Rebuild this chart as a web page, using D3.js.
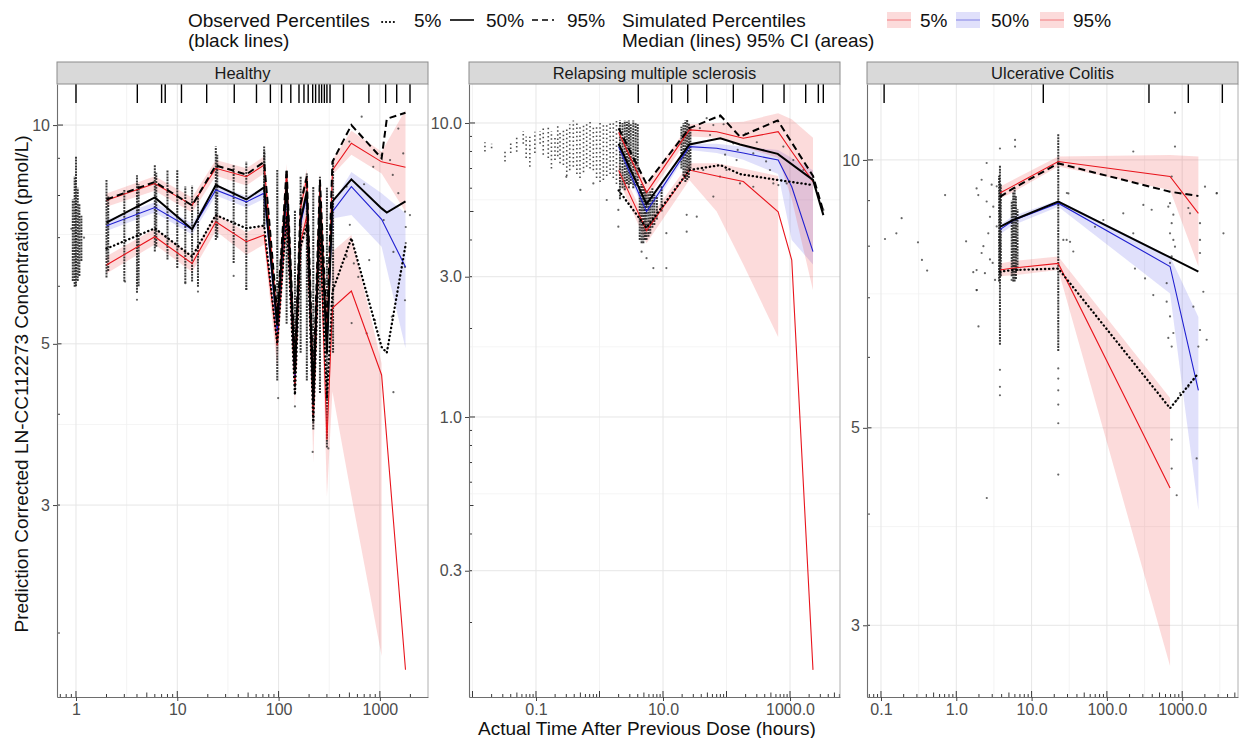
<!DOCTYPE html>
<html><head><meta charset="utf-8">
<script src="https://cdn.jsdelivr.net/npm/d3@7"></script>
<style>body{margin:0;background:#fff}svg{display:block}text{font-family:"Liberation Sans",Arial,Helvetica,sans-serif}</style>
</head><body><svg id="c" width="1239" height="738"></svg>
<script>
// ---------------- DATA ----------------
// Healthy
const healthyXTicks=[1,10,100,1000], healthyXLabels=["1","10","100","1000"];
const healthyYTicks=[3,5,10], healthyYLabels=["3","5","10"];
const healthyRug=[1,4.03,7.0,7.6,11,19.5,36.5,60.5,83,107,132,159,178,196,217,232,251,266,283,300,322,437,779,1140,1466,1983];
const healthySimTime=[2,6,14,24,48,72,97,120,145,165,190,220,256,300,340,523,1040,1790];
const healthySim95=[7.88,8.31,7.76,8.72,8.49,8.81,5.4,8.6,4.65,7.7,8.45,4.3,8.35,5.1,8.67,9.44,8.90,8.75];
const healthySim95Lo=[7.72,8.12,7.58,8.52,8.26,8.58,5.15,8.3,4.45,7.4,8.2,4.05,8.1,4.8,8.54,9.10,8.58,7.60];
const healthySim95Hi=[8.05,8.50,7.95,8.95,8.72,9.05,5.65,8.85,4.85,7.95,8.7,4.55,8.6,5.4,8.95,9.82,9.19,10.5];
const healthySim50=[7.27,7.70,7.19,8.14,7.84,8.06,5.2,8.1,4.5,7.3,8.0,4.15,7.9,4.9,7.60,8.23,7.42,6.38];
const healthySim50Lo=[7.15,7.58,7.07,8.0,7.70,7.92,5.05,7.9,4.35,7.1,7.8,4.0,7.7,4.7,7.44,7.52,6.80,4.93];
const healthySim50Hi=[7.40,7.83,7.32,8.28,7.98,8.20,5.35,8.3,4.65,7.5,8.2,4.3,8.1,5.1,7.80,8.62,8.06,7.56];
const healthySim05=[6.42,7.02,6.45,7.36,6.91,7.06,4.98,7.6,4.38,6.9,7.5,3.97,7.3,3.69,5.60,5.91,4.53,1.78];
const healthySim05Lo=[6.25,6.85,6.28,7.15,6.63,6.85,4.63,7.3,4.1,6.6,7.2,3.43,7.0,3.08,4.30,3.09,1.86,null];
const healthySim05Hi=[6.60,7.20,6.62,7.55,7.12,7.30,5.2,7.9,4.6,7.2,7.8,4.3,7.6,4.1,6.70,7.06,4.7,null];
const healthyObsTime=[2,6,14,24,48,72,97,120,145,165,190,220,256,300,340,523,1040,1170,1790];
const healthyObs95=[7.9,8.35,7.75,8.8,8.55,8.9,5.5,8.7,4.7,7.8,8.5,4.4,8.4,5.2,8.9,10.0,9.0,10.2,10.4];
const healthyObs50=[7.34,7.95,7.19,8.27,7.90,8.21,5.3,8.3,4.55,7.4,8.1,4.15,7.9,4.85,7.85,8.42,7.68,7.58,7.85];
const healthyObs05=[6.76,7.21,6.59,7.52,7.21,7.27,5.0,7.5,4.25,6.8,7.3,3.9,7.2,4.2,5.9,6.99,4.95,4.86,6.83];
const healthyColumns=[[0.93,6.1,7.9],[0.97,5.99,8.5],[1.0,6.0,9.05],[1.04,6.1,8.2],[1.08,6.2,7.8],[1.13,6.5,7.5],
 [2,6.17,8.40],[2.08,6.3,8.0],[3,6.09,8.14],[4,5.88,8.53],[4.15,6.0,8.3],[6,6.70,8.81],[6.2,6.8,8.6],[8,6.53,8.67],[10,6.36,8.67],
 [12,6.06,8.23],[14,6.09,8.25],[16,5.99,8.01],[24,6.95,9.34],[24.8,7.0,9.1],[36,6.46,8.81],[48,5.93,8.90],[72,7.25,9.34],[72.5,7.3,9.2],
 [97,4.45,8.67],[120,5.33,8.67],[145,4.28,7.64],[165,4.86,8.49],[190,4.45,8.58],[220,3.81,8.23],[256,4.28,8.49],[300,3.6,8.2],[345,4.86,8.95]];
const healthyPoints=[[661,10.27],[499,9.49],[505,7.29],[469,6.59],[553,6.45],[612,6.18],[698,8.29],[785,6.52],[895,5.39],[1040,9.09],
 [1260,8.95],[1340,8.54],[1520,9.89],[1520,8.06],[1700,9.14],[1770,7.60],[1800,7.24],[1800,6.88],[1770,6.38],[1770,5.74],[1980,7.52],
 [1360,6.69],[1090,7.40],[1310,5.45],[1360,4.29],[469,8.23],[860,8.76],[99,4.21],[145,4.10],[217,3.55],[310,3.59],[3.05,6.09],[12,6.06],
 [48,5.95],[526,5.34],[740,5.17],[4,5.75],[16,5.9],[36,6.2],[1.2,7.0],[0.9,7.2]];

// Relapsing multiple sclerosis
const rmsXTicks=[0.1,10,1000], rmsXLabels=["0.1","10.0","1000.0"];
const rmsYTicks=[0.3,1,3,10], rmsYLabels=["0.3","1.0","3.0","10.0"];
const rmsRug=[4.08,13.7,24.5,48.7,128,372,805,1766,2792,3343];
const rmsSimTime=[2,5.5,26,70,184,650,1065,2300];
const rmsSim95=[9.3,5.8,9.47,9.34,8.87,9.34,8.0,6.32];
const rmsSim95Lo=[8.9,5.5,9.0,8.9,8.3,7.6,5.5,2.7];
const rmsSim95Hi=[9.7,6.2,9.9,10.0,10.1,10.8,10.3,8.9];
const rmsSim50=[8.3,5.0,8.31,8.2,7.9,7.48,6.07,3.65];
const rmsSim50Lo=[8.0,4.8,8.1,7.9,7.5,6.7,4.0,3.3];
const rmsSim50Hi=[8.6,5.25,8.5,8.5,8.3,8.1,7.6,6.9];
const rmsSim05=[6.9,4.3,6.92,6.6,6.32,4.99,3.42,0.138];
const rmsSim05Lo=[6.4,3.9,6.4,5.0,3.3,1.87,null,null];
const rmsSim05Hi=[7.3,4.6,7.3,7.3,7.0,6.6,null,null];
const rmsObsTime=[2,5.5,26,80,163,640,2300,3350];
const rmsObs95=[9.6,6.2,9.6,10.6,8.98,10.2,6.6,5.0];
const rmsObs50=[8.5,5.3,8.45,8.87,8.45,7.85,6.4,4.86];
const rmsObs05=[5.9,4.4,6.92,7.19,6.7,6.40,6.15,null];
const rmsSparseColumns=[[0.0157,8.0,8.6],[0.02,8.2,8.5],[0.0325,7.4,8.1],[0.04,7.9,8.6],[0.0497,7.99,8.98],[0.063,8.5,9.4],[0.07,7.6,9.0],
 [0.08,7.1,8.98],[0.096,7.9,9.34],[0.116,8.5,9.4],[0.13,7.8,9.6],[0.156,7.6,9.7],[0.175,7.0,9.4],[0.199,7.48,9.0],[0.22,7.7,9.8],
 [0.239,7.3,9.34],[0.27,7.2,9.6],[0.305,6.6,9.5],[0.34,6.9,9.9],[0.387,7.1,10.2],[0.44,6.7,10.0],[0.493,6.5,9.7],[0.56,6.8,9.9],
 [0.628,7.1,10.0],[0.71,7.0,10.1],[0.799,6.9,9.7],[0.9,6.5,9.8],[1.02,6.3,10.2],[1.15,6.4,10.0],[1.3,6.6,10.0],[1.47,6.7,10.1],
 [1.65,6.5,10.2],[1.85,6.2,10.2]];
const rmsDenseColumns=[[2.1,5.5,10.2],[2.3,6.0,10.0],[2.5,5.9,10.2],[2.7,6.2,10.1],[2.9,6.0,10.2],[3.1,6.2,9.9],[3.4,6.0,10.2],[3.7,6.1,10.0],[4.0,6.2,9.9],
 [4.3,4.0,6.1],[4.6,3.9,6.2],[4.9,3.9,6.1],[5.2,4.0,6.0],[5.5,4.0,5.9],[5.9,4.1,5.8],[6.3,4.2,5.9],[6.8,4.4,6.0],[7.3,4.5,5.7],[8.0,4.7,5.6],[9.5,5.0,6.1],
 [19.5,7.0,9.7],[21,6.6,10.0],[22.5,6.3,10.2],[24,6.4,10.24],[25.5,6.5,10.0],[27,7.0,9.6]];
const rmsPoints=[[48.7,10.38],[78.9,10.51],[62,9.84],[55,9.10],[43,6.92],[62,5.62],[128,8.53],[163,6.23],[264,7.88],[380,8.09],
 [484,6.92],[785,8.31],[885,6.23],[1127,7.48],[1622,6.92],[2476,6.07],[2966,5.33],[3350,5.06],[34,4.80],[78.9,6.57],[100,6.92],
 [144,7.48],[264,6.07],[546,6.23],[655,6.15],[11.3,4.22],[7.05,3.21],[11.3,3.21],[4.6,3.65],[5.5,3.47],[23.6,4.87],[23.6,4.27],
 [0.5,5.92],[0.8,6.23],[1.3,5.47],[0.3,6.56],[1.98,4.44],[1.98,5.06],[38,9.6],[90,9.9],[200,9.2],[300,8.6],[420,7.4],[95,7.8],[150,8.1]];

// Ulcerative Colitis
const ucXTicks=[0.1,1,10,100,1000], ucXLabels=["0.1","1.0","10.0","100.0","1000.0"];
const ucYTicks=[3,5,10], ucYLabels=["3","5","10"];
const ucRug=[0.11,14.3,362,1205,3412];
const ucSimTime=[3.8,5.7,22.6,690,1640];
const ucSim95=[9.18,9.35,9.96,9.58,8.71];
const ucSim95Lo=[9.05,9.2,9.83,9.25,7.59];
const ucSim95Hi=[9.33,9.5,10.09,10.13,10.09];
const ucSim50=[8.35,8.55,8.94,7.59,5.51];
const ucSim50Lo=[8.25,8.45,8.86,7.08,4.04];
const ucSim50Hi=[8.45,8.65,9.01,7.79,6.66];
const ucSim05=[7.52,7.56,7.65,4.28,null];
const ucSim05Lo=[7.40,7.42,7.52,2.70,null];
const ucSim05Hi=[7.65,7.7,7.79,5.4,null];
const ucObsTime=[3.8,5.7,22.6,690,1640];
const ucObs95=[9.09,9.29,9.91,9.21,9.11];
const ucObs50=[8.41,8.56,8.98,7.77,7.49];
const ucObs05=[7.49,7.52,7.55,5.26,5.76];
const ucColumns=[[3.8,6.2,9.85],[3.7,7.3,9.6],[3.9,7.4,9.4],[5.45,7.4,9.0],[5.7,7.3,9.2],[5.95,7.3,9.3],[6.2,7.35,9.1],[6.5,7.5,8.8],[22.6,6.1,10.7]];
const ucPoints=[[725,9.58],[689,8.94],[654,8.86],[763,8.68],[725,8.49],[689,8.27],[763,8.13],[802,7.99],[725,7.79],[689,7.66],
 [622,7.27],[413,7.05],[622,6.93],[689,6.67],[763,6.39],[654,6.31],[725,6.17],[935,5.47],[845,5.37],[725,4.85],[725,4.50],[845,4.20],
 [1206,8.83],[1270,8.71],[1723,8.49],[1723,8.13],[1723,7.86],[1908,7.11],[1406,6.84],[1723,6.44],[2113,6.28],[1638,6.17],[1406,5.66],
 [1206,5.56],[1556,4.62],[2008,9.33],[2870,9.17],[30.8,9.17],[29.2,8.13],[35.8,7.89],[69.5,8.41],[89.7,8.56],[165,8.71],[224,8.27],
 [305,8.90],[321,7.36],[236,7.55],[393,8.79],[224,10.22],[802,11.3],[802,10.35],[2880,9.18],[3530,8.27],[26.4,8.13],[32.4,8.09],[29.4,9.18],
 [0.113,8.15],[0.16,8.27],[0.188,8.60],[0.31,8.08],[0.35,7.72],[0.41,7.51],[0.71,9.13],[1.35,8.10],[1.87,7.14],[2.54,4.17],[1.97,6.50],
 [1.86,9.29],[1.96,9.13],[2.17,9.50],[2.53,8.98],[2.80,8.63],[3.10,8.86],[3.44,9.34],[2.66,8.27],[2.29,8.00],[2.80,7.73],[1.86,7.52],
 [2.40,7.46],[3.27,7.33],[1.86,7.14],[2.53,9.92],[2.95,9.38],[3.44,8.42],[3.04,7.66],[1.68,7.48],[2.17,7.86],[6.03,10.53],[6.03,10.35],
 [3.80,10.3],[5.43,7.33],[3.8,5.81],[3.8,5.56],[3.8,5.44],[22.6,5.83],[22.6,5.68],[22.6,5.51],[22.6,5.31],[22.6,5.06],[22.6,4.43]];

// ---------------- DRAW ----------------
const svg=d3.select("#c");
const TOP=84,BOT=697,STRIP_TOP=62;
const mk=(t,m,lo,hi)=>t.map((d,i)=>({t:d,m:m[i],lo:lo?lo[i]:null,hi:hi?hi[i]:null}));

const panels=[
 {title:"Healthy",x0:57,x1:428,xDom:[0.6494,2985],yDom:[1.633,11.39],
  xT:healthyXTicks,xL:healthyXLabels,xMinor:[3.162,31.62,316.2],yT:healthyYTicks,yL:healthyYLabels,yMinor:[3.873,7.071],
  rug:healthyRug,cols:healthyColumns,sparse:[],pts:healthyPoints,
  sim:[mk(healthySimTime,healthySim05,healthySim05Lo,healthySim05Hi),mk(healthySimTime,healthySim50,healthySim50Lo,healthySim50Hi),mk(healthySimTime,healthySim95,healthySim95Lo,healthySim95Hi)],
  obs:[mk(healthyObsTime,healthyObs05),mk(healthyObsTime,healthyObs50),mk(healthyObsTime,healthyObs95)]},
 {title:"Relapsing multiple sclerosis",x0:469,x1:840,xDom:[0.00881,6124],yDom:[0.1116,13.57],
  xT:rmsXTicks,xL:rmsXLabels,xMinor:[0.01,1,100],yT:rmsYTicks,yL:rmsYLabels,yMinor:[0.5477,1.732,5.477],
  rug:rmsRug,cols:rmsDenseColumns,sparse:rmsSparseColumns,pts:rmsPoints,
  sim:[mk(rmsSimTime,rmsSim05,rmsSim05Lo,rmsSim05Hi),mk(rmsSimTime,rmsSim50,rmsSim50Lo,rmsSim50Hi),mk(rmsSimTime,rmsSim95,rmsSim95Lo,rmsSim95Hi)],
  obs:[mk(rmsObsTime,rmsObs05),mk(rmsObsTime,rmsObs50),mk(rmsObsTime,rmsObs95)]},
 {title:"Ulcerative Colitis",x0:867,x1:1238,xDom:[0.0652,5508],yDom:[2.492,12.17],
  xT:ucXTicks,xL:ucXLabels,xMinor:[0.3162,3.162,31.62,316.2,3162],yT:ucYTicks,yL:ucYLabels,yMinor:[3.873,7.071],
  rug:ucRug,cols:ucColumns,sparse:[],pts:ucPoints,
  sim:[mk(ucSimTime,ucSim05,ucSim05Lo,ucSim05Hi),mk(ucSimTime,ucSim50,ucSim50Lo,ucSim50Hi),mk(ucSimTime,ucSim95,ucSim95Lo,ucSim95Hi)],
  obs:[mk(ucObsTime,ucObs05),mk(ucObsTime,ucObs50),mk(ucObsTime,ucObs95)]}
];
const simColor=["#e8141c","#1f1fd0","#e8141c"], simFill=["rgba(235,40,40,0.17)","rgba(60,60,230,0.16)","rgba(235,40,40,0.17)"];
const obsDash=["0.3,3.8",null,"7,4"];

panels.forEach((p,i)=>{
  const x=d3.scaleLog().domain(p.xDom).range([p.x0,p.x1]);
  const y=d3.scaleLog().domain(p.yDom).range([BOT,TOP]);
  const g=svg.append("g");
  svg.append("clipPath").attr("id","cp"+i).append("rect").attr("x",p.x0).attr("y",TOP).attr("width",p.x1-p.x0).attr("height",BOT-TOP);
  // grid
  p.yMinor.forEach(v=>g.append("line").attr("x1",p.x0).attr("x2",p.x1).attr("y1",y(v)).attr("y2",y(v)).attr("stroke","#f2f2f2").attr("stroke-width",0.8));
  p.xMinor.forEach(v=>{if(v>p.xDom[0]&&v<p.xDom[1])g.append("line").attr("x1",x(v)).attr("x2",x(v)).attr("y1",TOP).attr("y2",BOT).attr("stroke","#f0f0f0").attr("stroke-width",0.8);});
  p.yT.forEach(v=>g.append("line").attr("x1",p.x0).attr("x2",p.x1).attr("y1",y(v)).attr("y2",y(v)).attr("stroke","#e6e6e6").attr("stroke-width",1));
  p.xT.forEach(v=>g.append("line").attr("x1",x(v)).attr("x2",x(v)).attr("y1",TOP).attr("y2",BOT).attr("stroke","#e6e6e6").attr("stroke-width",1));
  const pl=g.append("g").attr("clip-path","url(#cp"+i+")");
  // CI areas
  p.sim.forEach((s,k)=>{
    pl.append("path").datum(s).attr("fill",simFill[k]).attr("stroke","none")
      .attr("d",d3.area().defined(d=>d.lo!=null&&d.hi!=null).x(d=>x(d.t)).y0(d=>y(d.lo)).y1(d=>y(d.hi)));
  });
  // observations
  p.sparse.forEach(c=>pl.append("line").attr("x1",x(c[0])).attr("x2",x(c[0])).attr("y1",y(c[1])).attr("y2",y(c[2]))
     .attr("stroke","#222").attr("stroke-width",1.6).attr("stroke-dasharray","1.5,2.6").attr("opacity",0.8));
  p.cols.forEach(c=>pl.append("line").attr("x1",x(c[0])).attr("x2",x(c[0])).attr("y1",y(c[1])).attr("y2",y(c[2]))
     .attr("stroke","#1a1a1a").attr("stroke-width",2).attr("stroke-dasharray","2,0.9").attr("opacity",0.85));
  pl.selectAll("circle.pt").data(p.pts).enter().append("circle").attr("cx",d=>x(d[0])).attr("cy",d=>y(d[1])).attr("r",1.1)
     .attr("fill","#333").attr("opacity",0.75);
  // simulated median lines
  p.sim.forEach((s,k)=>{
    pl.append("path").datum(s).attr("fill","none").attr("stroke",simColor[k]).attr("stroke-width",1.1)
      .attr("d",d3.line().defined(d=>d.m!=null).x(d=>x(d.t)).y(d=>y(d.m)));
  });
  // observed percentile lines
  p.obs.forEach((s,k)=>{
    const path=pl.append("path").datum(s).attr("fill","none").attr("stroke","#000").attr("stroke-width",k==0?2.3:2)
      .attr("d",d3.line().defined(d=>d.m!=null).x(d=>x(d.t)).y(d=>y(d.m)));
    if(obsDash[k]){path.attr("stroke-dasharray",obsDash[k]);}
    if(k==0)path.attr("stroke-linecap","round");
  });
  // rug
  p.rug.forEach(t=>g.append("line").attr("x1",x(t)).attr("x2",x(t)).attr("y1",TOP).attr("y2",TOP+19).attr("stroke","#000").attr("stroke-width",1.4));
  // log ticks (inside)
  const lt=g.append("g").attr("stroke","#222").attr("stroke-width",0.9);
  const dec=(lo,hi)=>d3.range(Math.floor(Math.log10(lo)),Math.ceil(Math.log10(hi))+1);
  dec(p.xDom[0],p.xDom[1]).forEach(e=>{for(let m=1;m<=9;m++){const v=m*Math.pow(10,e);if(v<p.xDom[0]||v>p.xDom[1])continue;
    const L=m==1?6:(m==5?4.5:3);lt.append("line").attr("x1",x(v)).attr("x2",x(v)).attr("y1",BOT).attr("y2",BOT-L);}});
  dec(p.yDom[0],p.yDom[1]).forEach(e=>{for(let m=1;m<=9;m++){const v=m*Math.pow(10,e);if(v<p.yDom[0]||v>p.yDom[1])continue;
    const L=m==1?6:(m==5?4.5:3);lt.append("line").attr("x1",p.x0).attr("x2",p.x0+L).attr("y1",y(v)).attr("y2",y(v));}});
  // border right
  g.append("line").attr("x1",p.x1).attr("x2",p.x1).attr("y1",TOP).attr("y2",BOT).attr("stroke","#b0b0b0").attr("stroke-width",1);
  // axes
  const ax=g.append("g").attr("transform",`translate(${p.x0},0)`).call(d3.axisLeft(y).tickValues(p.yT).tickFormat((d,j)=>p.yL[j]).tickSize(4).tickSizeOuter(0));
  const bx=g.append("g").attr("transform",`translate(0,${BOT})`).call(d3.axisBottom(x).tickValues(p.xT).tickFormat((d,j)=>p.xL[j]).tickSize(4).tickSizeOuter(0));
  [ax,bx].forEach(a=>{a.select(".domain").attr("stroke","#6e6e6e").attr("stroke-width",1.1);
    a.selectAll(".tick line").attr("stroke","#444");
    a.selectAll("text").attr("fill","#4d4d4d").attr("font-size",16).attr("font-family",'"Liberation Sans",Arial,sans-serif');});
  // strip
  g.append("rect").attr("x",p.x0).attr("y",STRIP_TOP).attr("width",p.x1-p.x0).attr("height",TOP-STRIP_TOP).attr("fill","#d9d9d9").attr("stroke","#8c8c8c").attr("stroke-width",1);
  g.append("text").attr("x",(p.x0+p.x1)/2).attr("y",TOP-(TOP-STRIP_TOP)/2).attr("text-anchor","middle").attr("dominant-baseline","central")
   .attr("font-size",16.5).attr("fill","#1a1a1a").text(p.title);
});

// axis titles
svg.append("text").attr("x",647).attr("y",728).attr("text-anchor","middle").attr("dominant-baseline","central").attr("font-size",19).attr("fill","#111")
  .text("Actual Time After Previous Dose (hours)");
svg.append("text").attr("transform","translate(21,384) rotate(-90)").attr("text-anchor","middle").attr("dominant-baseline","central").attr("font-size",19).attr("fill","#111")
  .text("Prediction Corrected LN-CC112273 Concentration (pmol/L)");

// legend
const leg=svg.append("g").attr("font-size",19).attr("fill","#111");
const L1=20,L2=40;
leg.append("text").attr("x",188).attr("y",L1).attr("dominant-baseline","central").text("Observed Percentiles");
leg.append("text").attr("x",188).attr("y",L2).attr("dominant-baseline","central").text("(black lines)");
leg.append("line").attr("x1",382).attr("x2",396).attr("y1",L1+2).attr("y2",L1+2).attr("stroke","#000").attr("stroke-width",1.8).attr("stroke-dasharray","0.3,3.6").attr("stroke-linecap","round");
leg.append("text").attr("x",414).attr("y",L1).attr("dominant-baseline","central").text("5%");
leg.append("line").attr("x1",450).attr("x2",474).attr("y1",L1).attr("y2",L1).attr("stroke","#000").attr("stroke-width",1.6);
leg.append("text").attr("x",486).attr("y",L1).attr("dominant-baseline","central").text("50%");
leg.append("line").attr("x1",532).attr("x2",554).attr("y1",L1).attr("y2",L1).attr("stroke","#000").attr("stroke-width",1.6).attr("stroke-dasharray","6,4");
leg.append("text").attr("x",567).attr("y",L1).attr("dominant-baseline","central").text("95%");
leg.append("text").attr("x",622).attr("y",L1).attr("dominant-baseline","central").text("Simulated Percentiles");
leg.append("text").attr("x",622).attr("y",L2).attr("dominant-baseline","central").text("Median (lines) 95% CI (areas)");
[[887,"5%",0,920],[956,"50%",1,991],[1040,"95%",2,1073]].forEach(([kx,lab,k,tx])=>{
  leg.append("rect").attr("x",kx).attr("y",L1-8).attr("width",24).attr("height",16).attr("fill",simFill[k]);
  leg.append("line").attr("x1",kx).attr("x2",kx+24).attr("y1",L1).attr("y2",L1).attr("stroke",simColor[k]).attr("stroke-width",0.8).attr("opacity",0.6);
  leg.append("text").attr("x",tx).attr("y",L1).attr("dominant-baseline","central").text(lab);
});
</script></body></html>
